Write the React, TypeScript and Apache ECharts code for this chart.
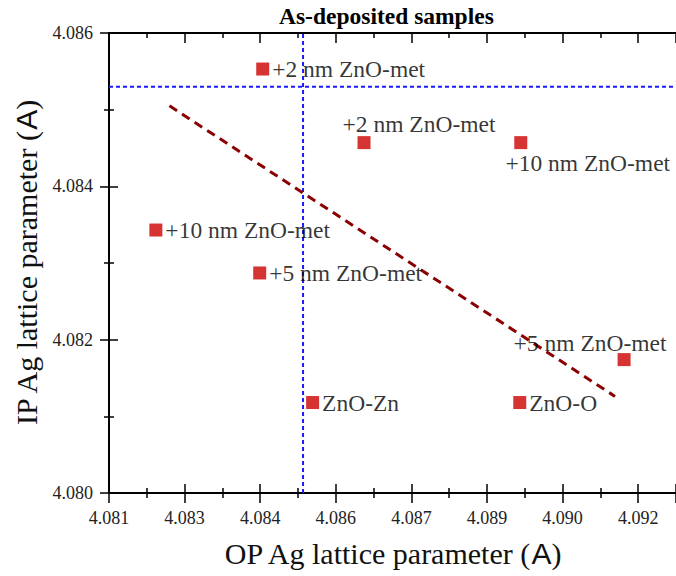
import React, { useEffect, useRef } from 'react';
import * as echarts from 'echarts';

// ---- data ----
const sampleLabels = [
  '+2 nm ZnO-met',
  '+2 nm ZnO-met',
  '+10 nm ZnO-met',
  '+10 nm ZnO-met',
  '+5 nm ZnO-met',
  '+5 nm ZnO-met',
  'ZnO-Zn',
  'ZnO-O',
];
const opValues = [4.08405, 4.08606, 4.08917, 4.08193, 4.08399, 4.09122, 4.08504, 4.08915];
const ipValues = [4.08553, 4.08457, 4.08457, 4.08343, 4.08287, 4.08174, 4.08118, 4.08118];

const fitOp = [4.0822, 4.09104];
const fitIp = [4.08505, 4.08126];

const refIp = 4.0853;
const refOp = 4.08485;

const xTickLabels = ['4.081', '4.083', '4.084', '4.086', '4.087', '4.089', '4.090', '4.092'];
const yTickLabels = ['4.080', '4.082', '4.084', '4.086'];

const X_MIN = 4.081;
const X_STEP = 0.0015;
const X_MAX = 4.09225;
const Y_MIN = 4.08;
const Y_STEP = 0.002;
const Y_MAX = 4.086;

// label placement (style only)
const labelPlace = ['right', 'above', 'below', 'right', 'right', 'aboveLeft', 'right', 'right'];

const SERIF = '"Liberation Serif", "Times New Roman", serif';
const SANS = '"Liberation Sans", Arial, sans-serif';

function labelCfg(kind: string) {
  const base = {
    show: true,
    color: '#000',
    fontFamily: SERIF,
    fontSize: 23.5,
  };
  if (kind === 'right') return { ...base, position: 'right', distance: 3 };
  if (kind === 'above') return { ...base, position: 'inside', offset: [55, -19] };
  if (kind === 'below') return { ...base, position: 'inside', offset: [67, 20] };
  return { ...base, position: 'inside', offset: [-34, -17] };
}

export default function App() {
  const ref = useRef<HTMLDivElement>(null);

  useEffect(() => {
    if (!ref.current) return;
    const chart = echarts.init(ref.current, null, { renderer: 'svg' });

    const xFmt = (v: number) => {
      const i = Math.round((v - X_MIN) / X_STEP);
      return xTickLabels[i] ?? '';
    };
    const yFmt = (v: number) => {
      const i = Math.round((v - Y_MIN) / Y_STEP);
      return yTickLabels[i] ?? '';
    };

    const axisLine = { show: true, onZero: false, lineStyle: { color: '#000', width: 2 } };
    const tickStyle = { color: '#000', width: 1.5 };

    const xCommon = {
      type: 'value',
      min: X_MIN,
      max: X_MAX,
      interval: X_STEP,
      splitLine: { show: false },
      axisLine,
    };
    const yCommon = {
      type: 'value',
      min: Y_MIN,
      max: Y_MAX,
      interval: Y_STEP,
      splitLine: { show: false },
      axisLine,
    };

    const blueLine = { color: '#1a1aff', width: 2, type: [4, 3] };

    const option: any = {
      animation: false,
      backgroundColor: '#fff',
      title: {
        text: 'As-deposited samples',
        left: 279,
        top: 4,
        padding: 0,
        textStyle: { fontFamily: SERIF, fontWeight: 'bold', fontSize: 23.5, color: '#000' },
      },
      grid: { left: 109, top: 33, width: 571.5, height: 460, containLabel: false },
      xAxis: [
        {
          ...xCommon,
          position: 'bottom',
          axisTick: { show: true, inside: false, length: 10, lineStyle: tickStyle },
          minorTick: { show: true, splitNumber: 2, length: 5, lineStyle: tickStyle },
          axisLabel: { formatter: xFmt, fontFamily: SERIF, fontSize: 18, color: '#222', margin: 16 },
          name: 'OP Ag lattice parameter ({a|A})',
          nameLocation: 'middle',
          nameGap: 45,
          nameTextStyle: {
            fontFamily: SERIF,
            fontSize: 30,
            color: '#111',
            rich: { a: { fontFamily: SANS, fontSize: 30, color: '#111' } },
          },
        },
        {
          ...xCommon,
          position: 'bottom',
          axisTick: { show: true, inside: true, length: 9, lineStyle: tickStyle },
          minorTick: { show: true, splitNumber: 2, length: 5, lineStyle: tickStyle },
          axisLabel: { show: false },
        },
        {
          ...xCommon,
          position: 'top',
          axisTick: { show: true, inside: true, length: 10, lineStyle: tickStyle },
          minorTick: { show: true, splitNumber: 2, length: 5, lineStyle: tickStyle },
          axisLabel: { show: false },
        },
      ],
      yAxis: [
        {
          ...yCommon,
          position: 'left',
          axisTick: { show: true, inside: false, length: 9, lineStyle: tickStyle },
          minorTick: { show: true, splitNumber: 2, length: 5, lineStyle: tickStyle },
          axisLabel: { formatter: yFmt, fontFamily: SERIF, fontSize: 18, color: '#222', margin: 16 },
          name: 'IP Ag lattice parameter ({a|A})',
          nameLocation: 'middle',
          nameGap: 64,
          nameRotate: 90,
          nameTextStyle: {
            fontFamily: SERIF,
            fontSize: 30,
            color: '#111',
            rich: { a: { fontFamily: SANS, fontSize: 30, color: '#111' } },
          },
        },
        {
          ...yCommon,
          position: 'left',
          axisTick: { show: true, inside: true, length: 9, lineStyle: tickStyle },
          minorTick: { show: true, splitNumber: 2, length: 5, lineStyle: tickStyle },
          axisLabel: { show: false },
        },
      ],
      series: [
        {
          type: 'line',
          xAxisIndex: 0,
          yAxisIndex: 0,
          data: [[X_MIN, refIp], [X_MAX, refIp]],
          symbol: 'none',
          lineStyle: blueLine,
          z: 1,
        },
        {
          type: 'line',
          xAxisIndex: 0,
          yAxisIndex: 0,
          data: [[refOp, Y_MIN], [refOp, Y_MAX]],
          symbol: 'none',
          lineStyle: blueLine,
          z: 1,
        },
        {
          type: 'line',
          xAxisIndex: 0,
          yAxisIndex: 0,
          data: fitOp.map((x, i) => [x, fitIp[i]]),
          symbol: 'none',
          lineStyle: { color: '#8b0000', width: 3, type: [9, 6] },
          z: 2,
        },
        {
          type: 'scatter',
          xAxisIndex: 0,
          yAxisIndex: 0,
          symbol: 'rect',
          symbolSize: 13,
          itemStyle: { color: '#cc0000' },
          z: 3,
          data: opValues.map((x, i) => ({
            value: [x, ipValues[i]],
            name: sampleLabels[i],
            label: { ...labelCfg(labelPlace[i]), formatter: sampleLabels[i] },
          })),
        },
      ],
    };

    chart.setOption(option);
    return () => chart.dispose();
  }, []);

  return (
    <div
      ref={ref}
      style={{ position: 'absolute', left: 0, top: 0, width: 676, height: 576 }}
    />
  );
}
